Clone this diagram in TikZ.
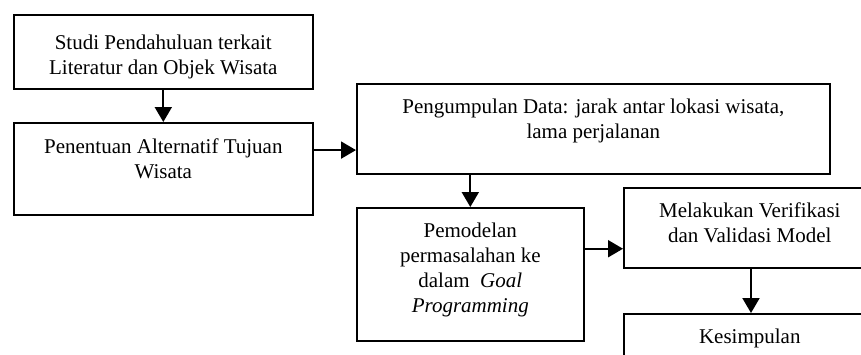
\documentclass[tikz,border=0pt]{standalone}
\usepackage{fontspec}
\setmainfont{Liberation Serif}
\usetikzlibrary{arrows.meta,calc}
\begin{document}
\begin{tikzpicture}[x=1pt,y=-1pt,
  box/.style={draw, line width=1.6pt, inner sep=0pt, anchor=north west},
  txt/.style={anchor=north, inner sep=0pt, align=center, font=\fontsize{21}{25}\selectfont},
  arr/.style={line width=2pt, -{Triangle[length=15pt,width=17pt]}}]
\useasboundingbox (0,0) rectangle (861,354);
\clip (0,0) rectangle (861,354);
\node[box, minimum width=299pt, minimum height=74pt] (b1) at (13,14) {};
\node[box, minimum width=299pt, minimum height=92pt] (b2) at (13,122) {};
\node[box, minimum width=473pt, minimum height=90pt] (b3) at (356,83) {};
\node[box, minimum width=227pt, minimum height=133pt] (b4) at (356,207) {};
\node[box, minimum width=252pt, minimum height=80pt] (b5) at (623,187) {};
\node[box, minimum width=252pt, minimum height=90pt] (b6) at (623,313) {};
\node[txt] (t1) at ([yshift=-18pt]b1.north) {\strut Studi Pendahuluan terkait\\Literatur dan Objek Wisata};
\node[txt] (t2) at ([yshift=-14pt]b2.north) {\strut Penentuan Alternatif Tujuan\\Wisata};
\node[txt] (t3) at ([yshift=-13pt]b3.north) {\strut Pengumpulan Data: jarak antar lokasi wisata,\\lama perjalanan};
\node[txt] (t4) at ([yshift=-13pt]b4.north) {\strut Pemodelan\\permasalahan ke\\dalam \ \textit{Goal}\\\textit{Programming}};
\node[txt] (t5) at ([yshift=-13pt]b5.north) {\strut Melakukan Verifikasi\\dan Validasi Model};
\node[txt] (t6) at ([yshift=-13pt]b6.north) {\strut Kesimpulan};
\draw[arr] (b1.south) -- (b2.north);
\coordinate (p2) at ($(b2.north east)!0.3!(b2.south east)$);
\draw[arr] (p2) -- (b3.west |- p2);
\draw[arr] (b4.north |- b3.south) -- (b4.north);
\coordinate (p4) at ($(b4.north east)!0.31!(b4.south east)$);
\draw[arr] (p4) -- (b5.west |- p4);
\draw[arr] (b5.south -| 751,0) -- (b6.north -| 751,0);
\end{tikzpicture}
\end{document}
